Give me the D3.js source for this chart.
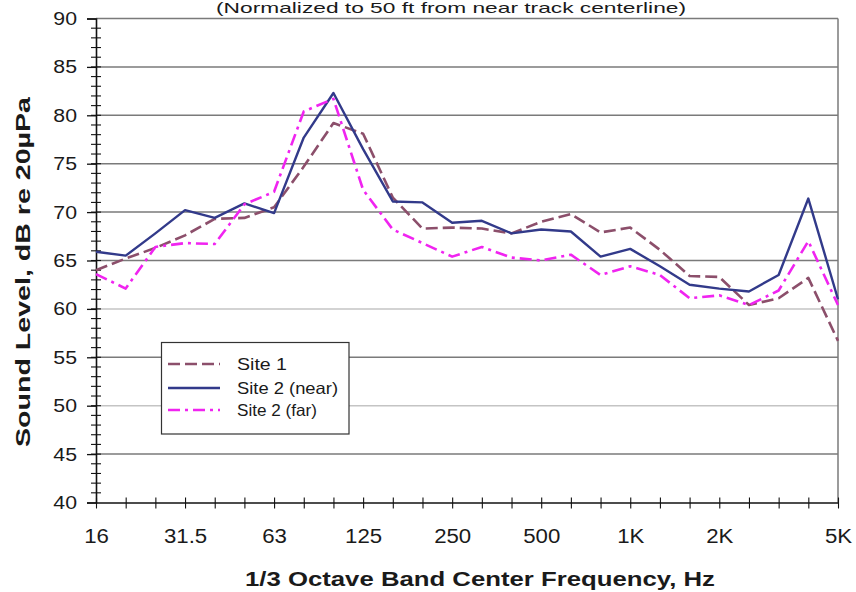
<!DOCTYPE html>
<html>
<head>
<meta charset="utf-8">
<script src="https://cdn.jsdelivr.net/npm/d3@7/dist/d3.min.js"></script>
<style>
  html, body { margin: 0; padding: 0; background: #fff; }
  svg { display: block; }
  text { font-family: "Liberation Sans", Arial, sans-serif; fill: #1a1a1a; }
</style>
</head>
<body>
<svg id="chart" width="856" height="592"></svg>
<script>
// ---- data ----
const bands = ["16","20","25","31.5","40","50","63","80","100","125","160","200","250","315","400","500","630","800","1000","1250","1600","2000","2500","3150","4000","5000"];
const tickLabels = {"16":"16","31.5":"31.5","63":"63","125":"125","250":"250","500":"500","1000":"1K","2000":"2K","5000":"5K"};
const site1 = [64.0, 65.2, 66.3, 67.6, 69.3, 69.4, 70.5, 74.7, 79.2, 78.1, 71.5, 68.3, 68.4, 68.3, 67.8, 69.0, 69.8, 67.9, 68.4, 66.1, 63.4, 63.3, 60.4, 61.1, 63.2, 56.7];
const site2near = [65.9, 65.5, 67.8, 70.2, 69.4, 70.9, 69.9, 77.7, 82.3, 76.5, 71.1, 71.0, 68.9, 69.1, 67.8, 68.2, 68.0, 65.4, 66.2, 64.4, 62.5, 62.1, 61.8, 63.5, 71.4, 61.0];
const site2far = [63.6, 62.1, 66.4, 66.8, 66.7, 70.8, 72.1, 80.4, 81.7, 72.3, 68.2, 66.8, 65.4, 66.4, 65.3, 65.0, 65.6, 63.5, 64.4, 63.5, 61.1, 61.4, 60.4, 61.9, 67.0, 60.4];
const yTicks = [40, 45, 50, 55, 60, 65, 70, 75, 80, 85, 90];
const seriesNames = ["Site 1", "Site 2 (near)", "Site 2 (far)"];
const titleText = "(Normalized to 50 ft from near track centerline)";
const xTitle = "1/3 Octave Band Center Frequency, Hz";
const yTitle = "Sound Level, dB re 20\u00B5Pa";

// ---- layout ----
const L = 96, R = 838, T = 18.5, B = 502.5;
const svg = d3.select("#chart");
const x = d3.scalePoint().domain(bands).range([L, R]);
const y = d3.scaleLinear().domain([40, 90]).range([B, T]);

const series = [
  {name: seriesNames[0], values: site1, color: "#8c4f6b", dash: "12,5", width: 2.6},
  {name: seriesNames[1], values: site2near, color: "#323a8a", dash: null, width: 2.4},
  {name: seriesNames[2], values: site2far, color: "#f024f0", dash: "12,5,3,5", width: 2.6}
];

// title (sits just above the plot)
svg.append("text").attr("x", 451).attr("y", 13).attr("text-anchor", "middle")
  .attr("font-size", 15).attr("textLength", 470).attr("lengthAdjust", "spacingAndGlyphs")
  .text(titleText);

// gridlines
svg.append("g").selectAll("line").data(yTicks.filter(v => v > 40 && v < 90)).join("line")
  .attr("x1", L).attr("x2", R).attr("y1", d => y(d)).attr("y2", d => y(d))
  .attr("stroke", d => (d === 60 || d === 50) ? "#c4c4c4" : "#7a7a7a").attr("stroke-width", 1.5);

// top / right border
svg.append("line").attr("x1", L).attr("x2", R).attr("y1", T).attr("y2", T).attr("stroke", "#7a7a7a").attr("stroke-width", 1.5);
svg.append("line").attr("x1", R).attr("x2", R).attr("y1", T).attr("y2", B).attr("stroke", "#7a7a7a").attr("stroke-width", 1.5);

// y axis
const yAxis = d3.axisLeft(y).tickValues(yTicks).tickSize(9).tickPadding(9).tickFormat(d3.format("d"));
const gy = svg.append("g").attr("transform", `translate(${L},0)`).call(yAxis);
gy.select(".domain").attr("stroke", "#111").attr("stroke-width", 1.6);
gy.selectAll(".tick line").attr("stroke", "#111").attr("stroke-width", 1.3);
gy.selectAll(".tick text").attr("font-size", 19).attr("fill", "#1a1a1a")
  .attr("font-family", "Liberation Sans, Arial, sans-serif")
  .attr("transform", "scale(1.12,1)").attr("dx", 1);
// minor y ticks
svg.append("g").selectAll("line").data(d3.range(41, 90)).join("line")
  .attr("x1", L - 5).attr("x2", L + 5).attr("y1", d => y(d)).attr("y2", d => y(d))
  .attr("stroke", "#111").attr("stroke-width", 1.1);

// x axis
const xAxis = d3.axisBottom(x).tickSize(0).tickPadding(27).tickFormat(d => tickLabels[d] || "");
const gx = svg.append("g").attr("transform", `translate(0,${B})`).call(xAxis);
gx.select(".domain").attr("stroke", "#111").attr("stroke-width", 1.6);
gx.selectAll(".tick text").attr("font-size", 19.5).attr("fill", "#1a1a1a")
  .attr("font-family", "Liberation Sans, Arial, sans-serif")
  .attr("transform", "scale(1.14,1)");
gx.selectAll(".tick").append("line").attr("y1", -5).attr("y2", 6).attr("stroke", "#111").attr("stroke-width", 1.1);

// lines
const line = d3.line().x((d, i) => x(bands[i])).y(d => y(d));
svg.append("g").selectAll("path").data(series).join("path")
  .attr("d", d => line(d.values)).attr("fill", "none")
  .attr("stroke", d => d.color).attr("stroke-width", d => d.width)
  .attr("stroke-dasharray", d => d.dash).attr("stroke-linejoin", "round");

// legend
const lg = svg.append("g");
lg.append("rect").attr("x", 161.5).attr("y", 342.5).attr("width", 187.5).attr("height", 91.5)
  .attr("fill", "#fff").attr("stroke", "#333").attr("stroke-width", 1.2);
const rows = [364, 388, 410];
series.forEach((s, i) => {
  lg.append("line").attr("x1", 168).attr("x2", 220).attr("y1", rows[i]).attr("y2", rows[i])
    .attr("stroke", s.color).attr("stroke-width", s.width).attr("stroke-dasharray", s.dash);
  lg.append("text").attr("x", 237).attr("y", rows[i] + 6).attr("font-size", 16.5)
    .attr("textLength", [50, 101, 80][i]).attr("lengthAdjust", "spacingAndGlyphs").text(s.name);
});

// axis titles
svg.append("text").attr("x", 480).attr("y", 586).attr("text-anchor", "middle")
  .attr("font-size", 20).attr("font-weight", "bold")
  .attr("textLength", 470).attr("lengthAdjust", "spacingAndGlyphs").text(xTitle);
svg.append("text").attr("transform", "translate(30,272) rotate(-90)").attr("text-anchor", "middle")
  .attr("font-size", 21).attr("font-weight", "bold")
  .attr("textLength", 350).attr("lengthAdjust", "spacingAndGlyphs").text(yTitle);
</script>
</body>
</html>
